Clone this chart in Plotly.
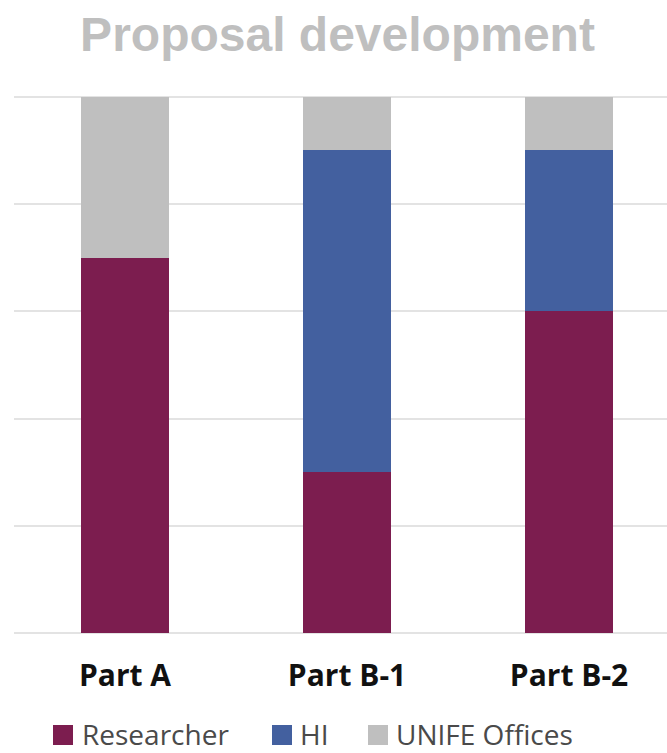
import plotly.graph_objects as go

categories = ["Part A", "Part B-1", "Part B-2"]
researcher = [70, 30, 60]
hi = [0, 60, 30]
unife = [30, 10, 10]
series_names = ["Researcher", "HI", "UNIFE Offices"]
colors = ["#7c1d4f", "#43609f", "#bfbfbf"]
y_ticks = [0, 20, 40, 60, 80, 100]

W, H = 667, 753
ML, MR, MT, MB = 14, 0, 95, 118

fig = go.Figure()
for name, vals, col in zip(series_names, [researcher, hi, unife], colors):
    fig.add_trace(go.Bar(x=categories, y=vals, name=name, marker=dict(color=col, line=dict(width=0)),
                         width=0.4, showlegend=False))

# manual legend (sized like the reference)
plot_w = W - ML - MR
plot_h = H - MT - MB
def px_x(px):
    return (px - ML) / plot_w
def px_y(py):
    return (H - MB - py) / plot_h

legend_sq_left = [53, 272, 368]
legend_txt_left = [81, 299, 395]
sq = 20
legend_cy = 735
for name, col, sl, tl in zip(series_names, colors, legend_sq_left, legend_txt_left):
    fig.add_shape(type="rect", xref="paper", yref="paper",
                  x0=px_x(sl), x1=px_x(sl + sq), y0=px_y(legend_cy + sq / 2), y1=px_y(legend_cy - sq / 2),
                  fillcolor=col, line=dict(width=0))
    fig.add_annotation(text=name, xref="paper", yref="paper", x=px_x(tl), y=px_y(legend_cy - 1),
                       xanchor="left", yanchor="middle", showarrow=False, borderpad=0,
                       font=dict(family="Open Sans", size=28, color="#4a4a4a"))

fig.update_layout(
    width=W, height=H,
    margin=dict(l=ML, r=MR, t=MT, b=MB),
    barmode="stack",
    plot_bgcolor="white", paper_bgcolor="white",
    title=dict(text="<b>Proposal development</b>", x=337.5 / W, xref="container", xanchor="center",
               y=1 - 34 / H, yref="container", yanchor="middle",
               font=dict(family="Liberation Sans", size=48, color="#bfbfbf")),
    xaxis=dict(range=[-0.5, -0.5 + plot_w / 222], showgrid=False, zeroline=False, showline=False,
               tickfont=dict(family="Open Sans", size=30, color="#111111"),
               tickvals=categories, ticktext=["<b>%s</b>" % c for c in categories],
               ticks="", ticklabelstandoff=20),
    yaxis=dict(range=[-0.3, 100.3], tickvals=y_ticks, showticklabels=False, showgrid=True,
               gridcolor="#e3e3e3", gridwidth=2, zeroline=True, zerolinecolor="#e3e3e3", zerolinewidth=2,
               showline=False),
)

fig.write_html("out.html")
